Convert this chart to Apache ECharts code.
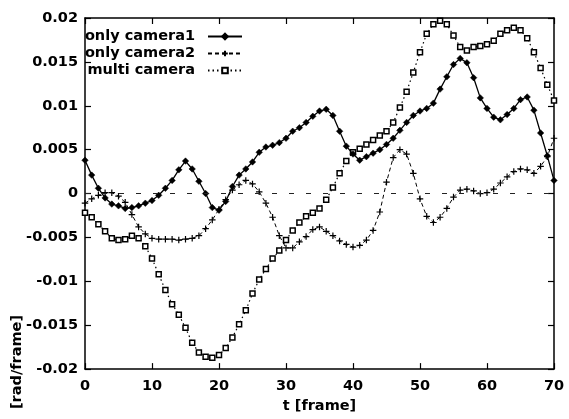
<!DOCTYPE html>
<html>
<head>
<meta charset="utf-8">
<script src="https://cdn.jsdelivr.net/npm/echarts@6/dist/echarts.min.js"></script>
<style>html,body{margin:0;padding:0;background:#fff}#c{width:569px;height:419px}</style>
</head>
<body>
<div id="c"></div>
<script>
const frames = [0,1,2,3,4,5,6,7,8,9,10,11,12,13,14,15,16,17,18,19,20,21,22,23,24,25,26,27,28,29,30,31,32,33,34,35,36,37,38,39,40,41,42,43,44,45,46,47,48,49,50,51,52,53,54,55,56,57,58,59,60,61,62,63,64,65,66,67,68,69,70];
const camera1 = [0.0038,0.0021,0.0006,-0.0005,-0.0012,-0.0014,-0.0017,-0.0016,-0.0014,-0.0011,
-0.0008,-0.0002,0.0006,0.0015,0.0027,0.0037,0.0028,0.0014,0.0000,-0.0016,
-0.0019,-0.0009,0.0008,0.0021,0.0028,0.0036,0.0047,0.0053,0.0055,0.0058,
0.0063,0.0071,0.0075,0.0081,0.0088,0.0094,0.0096,0.0089,0.0071,0.0054,
0.0045,0.0038,0.0042,0.0046,0.0050,0.0056,0.0063,0.0072,0.0081,0.0089,
0.0094,0.0097,0.0103,0.0119,0.0133,0.0147,0.0154,0.0149,0.0132,0.0109,
0.0097,0.0087,0.0084,0.0090,0.0097,0.0107,0.0110,0.0095,0.0069,0.0043,
0.0015];
const camera2 = [-0.0011,-0.0006,-0.0002,0.0001,0.0001,-0.0003,-0.0010,-0.0024,-0.0038,-0.0046,
-0.0051,-0.0052,-0.0052,-0.0052,-0.0053,-0.0052,-0.0051,-0.0048,-0.0040,-0.0030,
-0.0018,-0.0007,0.0004,0.0010,0.0015,0.0011,0.0002,-0.0011,-0.0027,-0.0048,
-0.0062,-0.0062,-0.0055,-0.0049,-0.0041,-0.0038,-0.0043,-0.0048,-0.0054,-0.0058,
-0.0061,-0.0059,-0.0053,-0.0042,-0.0021,0.0013,0.0041,0.0050,0.0045,0.0023,
-0.0006,-0.0026,-0.0033,-0.0027,-0.0017,-0.0004,0.0004,0.0005,0.0003,0.0000,
0.0001,0.0005,0.0012,0.0019,0.0025,0.0028,0.0027,0.0023,0.0031,0.0042,
0.0063];
const multi = [-0.0022,-0.0027,-0.0035,-0.0043,-0.0051,-0.0053,-0.0052,-0.0048,-0.0051,-0.0060,
-0.0074,-0.0092,-0.0110,-0.0126,-0.0138,-0.0153,-0.0170,-0.0181,-0.0186,-0.0187,
-0.0184,-0.0176,-0.0164,-0.0149,-0.0133,-0.0114,-0.0098,-0.0086,-0.0074,-0.0065,
-0.0053,-0.0042,-0.0033,-0.0026,-0.0022,-0.0017,-0.0007,0.0007,0.0023,0.0037,
0.0047,0.0051,0.0056,0.0061,0.0066,0.0071,0.0081,0.0098,0.0116,0.0138,
0.0161,0.0182,0.0193,0.0197,0.0193,0.0180,0.0167,0.0163,0.0167,0.0168,
0.0170,0.0174,0.0182,0.0186,0.0189,0.0186,0.0177,0.0161,0.0143,0.0124,
0.0106];
const seriesNames = ['only camera1', 'only camera2', 'multi camera'];
const xLabel = 't [frame]';
const yLabel = '[rad/frame]';

const FONT = 'DejaVu Sans';
const pairs = arr => frames.map((t, i) => [t, arr[i]]);
const chart = echarts.init(document.getElementById('c'), null, {renderer: 'canvas'});

const xCommon = {
  type: 'value', min: 0, max: 70, interval: 10,
  splitLine: {show: false},
  axisLine: {show: true, onZero: false, lineStyle: {color: '#000', width: 1.5}},
  axisTick: {show: true, inside: true, length: 6, lineStyle: {color: '#000', width: 1.2}}
};
const yCommon = {
  type: 'value', min: -0.02, max: 0.02, interval: 0.005,
  splitLine: {show: false},
  axisLine: {show: true, onZero: false, lineStyle: {color: '#000', width: 1.5}},
  axisTick: {show: true, inside: true, length: 6, lineStyle: {color: '#000', width: 1.2}}
};

chart.setOption({
  animation: false,
  backgroundColor: '#fff',
  grid: {left: 85, right: 15, top: 18, bottom: 42, containLabel: false},
  xAxis: [
    Object.assign({}, xCommon, {
      position: 'bottom',
      axisLabel: {show: true, margin: 10, color: '#000', fontFamily: FONT, fontWeight: 'bold', fontSize: 14.5},
      name: xLabel, nameLocation: 'middle', nameGap: 24,
      nameTextStyle: {color: '#000', fontFamily: FONT, fontWeight: 'bold', fontSize: 14.5}
    }),
    Object.assign({}, xCommon, {position: 'top', axisLabel: {show: false}})
  ],
  yAxis: [
    Object.assign({}, yCommon, {
      position: 'left',
      axisLabel: {show: true, margin: 7, color: '#000', fontFamily: FONT, fontWeight: 'bold', fontSize: 14.5,
        formatter: v => String(+v.toFixed(3))}
    }),
    Object.assign({}, yCommon, {position: 'right', axisLabel: {show: false}})
  ],
  graphic: [{
    type: 'text', x: 17, y: 362, rotation: Math.PI / 2,
    style: {text: yLabel, fill: '#000', font: 'bold 14.5px "DejaVu Sans"', align: 'center', verticalAlign: 'middle'}
  }],
  legend: {
    orient: 'vertical', align: 'right', right: 326, top: 29, padding: 0,
    itemWidth: 34, itemHeight: 7, itemGap: 2,
    textStyle: {color: '#000', fontFamily: FONT, fontWeight: 'bold', fontSize: 14.5, padding: [0, 8, 0, 0]},
    data: seriesNames
  },
  series: [
    {
      name: seriesNames[0], type: 'line', xAxisIndex: 0, yAxisIndex: 0,
      data: pairs(camera1), symbol: 'diamond', symbolSize: 6.5, showSymbol: true,
      lineStyle: {color: '#000', width: 1.3, type: 'solid'},
      itemStyle: {color: '#000', borderColor: '#000', borderWidth: 0.5},
      z: 4,
      markLine: {
        silent: true, symbol: 'none', label: {show: false},
        lineStyle: {color: '#222', width: 1, type: [5, 12]},
        data: [{yAxis: 0}]
      }
    },
    {
      name: seriesNames[1], type: 'line', xAxisIndex: 0, yAxisIndex: 0,
      data: pairs(camera2), symbol: 'path://M5,0 L5,10 M0,5 L10,5', symbolSize: 6.5, showSymbol: true,
      lineStyle: {color: '#000', width: 1, type: [4, 3]},
      itemStyle: {color: '#000', borderColor: '#000', borderWidth: 1.2},
      z: 3
    },
    {
      name: seriesNames[2], type: 'line', xAxisIndex: 0, yAxisIndex: 0,
      data: pairs(multi), symbol: 'rect', symbolSize: 5, showSymbol: true,
      lineStyle: {color: '#000', width: 1.2, type: [1.5, 3]},
      itemStyle: {color: '#fff', borderColor: '#000', borderWidth: 1.5},
      z: 2
    }
  ]
});
</script>
</body>
</html>
